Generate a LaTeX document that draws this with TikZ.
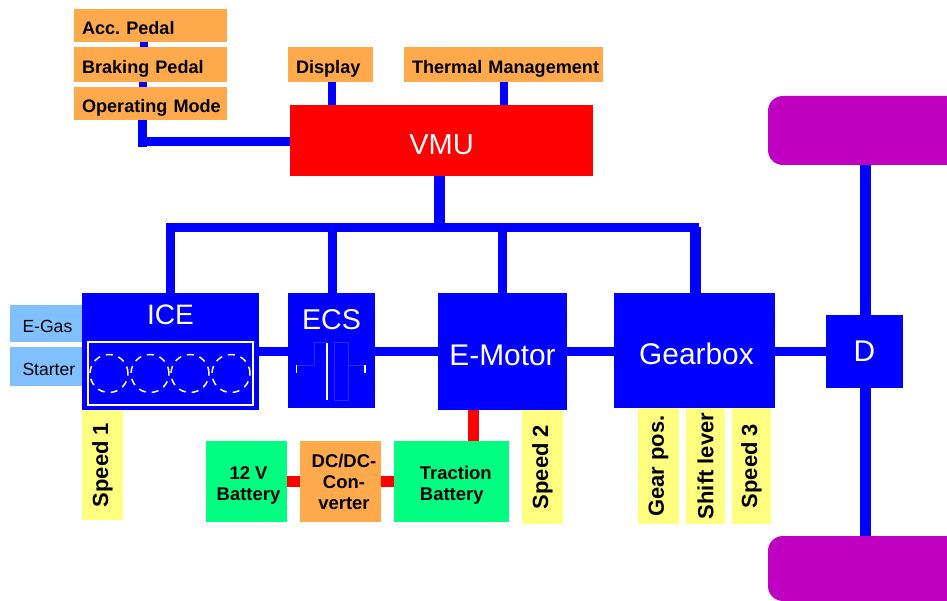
\documentclass[tikz,border=0pt]{standalone}
\usepackage{fontspec}
\setmainfont{Liberation Sans}
\usepackage{xcolor}
\usetikzlibrary{positioning, calc}

\definecolor{unitorange}{HTML}{FFA94D}
\definecolor{unitgreen}{HTML}{00FF80}
\definecolor{unityellow}{HTML}{FFFF80}
\definecolor{unitblue}{HTML}{80C0FF}
\definecolor{wheelpurple}{HTML}{C000C0}
\definecolor{clutchblue}{HTML}{2C2CFF}

\begin{document}
\begin{tikzpicture}[
    x=0.02cm, y=-0.02cm,
    box/.style={rectangle, inner sep=0pt, outer sep=0pt},
    peripheral/.style={box, fill=unitorange, minimum height=0.66cm, inner xsep=0.16cm, align=left, text height=0.45cm, text depth=0.1cm, font=\fontsize{10.3}{12}\selectfont\bfseries},
    sidebox/.style={peripheral, text width=2.74cm, minimum width=3.06cm},
    mainbox/.style={box, fill=blue, text=white, font=\fontsize{17}{20}\selectfont},
    sensor/.style={box, fill=unityellow, rotate=90, minimum height=0.82cm, font=\fontsize{12.5}{14}\selectfont\bfseries},
    battery/.style={box, fill=unitgreen, minimum height=1.62cm, align=center, font=\fontsize{10.5}{11.9}\selectfont\bfseries},
    actuator/.style={box, fill=unitblue, minimum width=1.44cm, inner xsep=0.25cm, text width=0.94cm, align=left, text height=0.48cm, text depth=0.1cm, font=\fontsize{10}{12}\selectfont},
    bus/.style={draw=blue, line width=0.18cm},
    wide/.style={bus, line width=0.22cm},
    power/.style={draw=red, line width=0.22cm},
    wheel/.style={fill=wheelpurple},
    cylinder/.style={circle, inner sep=0pt, minimum size=0.76cm, draw=white, line width=0.03cm, dash pattern=on 0.14cm off 0.12cm}
]
\useasboundingbox (0,0) rectangle (947,601);

\node[sidebox] at (150.5,25.5) (acc) {Acc.\ Pedal};
\node[sidebox, below=0.1cm of acc, minimum height=0.7cm] (brake) {Braking Pedal};
\node[sidebox, below=0.1cm of brake] (mode) {\mbox{Operating Mode}};

\node[box, fill=red, text=white, minimum width=6.06cm, minimum height=1.42cm, text height=0.58cm, font=\fontsize{16.5}{20}\selectfont] at (441.5,140.5) (vmu) {VMU};
\node[peripheral, minimum height=0.7cm, text width=1.38cm] at (330.5,64.5) (display) {Display};
\node[peripheral, minimum height=0.7cm, text width=3.66cm] at (503.5,64.5) (thermal) {\mbox{Thermal Management}};

\node[mainbox, minimum width=3.54cm, minimum height=2.34cm] at (170.5,351.5) (ice) {};
\node[mainbox, below=0.23cm of ice.north, font=\fontsize{16}{20}\selectfont] (icetext) {ICE};
\node[mainbox, minimum width=1.74cm, minimum height=2.3cm] at (331.5,350.5) (ecs) {};
\node[mainbox, below=0.33cm of ecs.north, font=\fontsize{16.3}{20}\selectfont] (ecstext) {ECS};
\node[mainbox, minimum width=2.58cm, minimum height=2.34cm, text height=0.56cm] at (502.5,351.5) (emotor) {E-Motor};
\node[mainbox, minimum width=3.22cm, minimum height=2.3cm, text height=0.56cm] at (694.5,350.5) (gearbox) {\hspace*{0.08cm}Gearbox};
\node[mainbox, minimum width=1.54cm, minimum height=1.46cm] at (864.5,351.5) (diff) {D};

\node[actuator, minimum height=0.74cm] at (46,323.5) (egas) {\mbox{E-Gas}};
\node[actuator, minimum height=0.78cm] at (46,366.5) (starter) {\mbox{Starter}};

\node[box, draw=white, line width=0.025cm, minimum width=3.3cm, minimum height=1.26cm] at (170.5,373.5) (engine) {};
\foreach \i/\cx in {1/109,2/150,3/190,4/231}
    \node[cylinder] at (\cx,373.5) (cyl\i) {};

\node[sensor, minimum width=2.2cm] at (102.5,465) (speedone) {Speed 1};
\node[sensor, minimum width=2.28cm] at (542.5,467) (speedtwo) {Speed 2};
\node[sensor, minimum width=2.32cm] at (658.5,466) (gearpos) {Gear pos.};
\node[sensor, minimum width=2.32cm, minimum height=0.78cm] at (705.5,466) (shift) {Shift lever};
\node[sensor, minimum width=2.32cm, minimum height=0.78cm] at (751.5,466) (speedthree) {Speed 3};

\node[battery, minimum width=1.62cm] at (246.5,481.5) (lowbatt) {\rule{0pt}{12pt}\hspace*{0.08cm}12 V\\\hspace*{0.08cm}Battery};
\node[battery, fill=unitorange, minimum width=1.62cm, right=0.26cm of lowbatt] (dcdc) {\hspace*{0.14cm}DC/DC-\\\hspace*{0.14cm}Con-\\\hspace*{0.14cm}verter};
\node[battery, minimum width=2.3cm, right=0.26cm of dcdc, inner xsep=0.52cm, text width=1.26cm, align=left] (tractbatt) {\rule{0pt}{12pt}Traction\\Battery};

\coordinate (modejoint) at (142.5,147);
\coordinate (vmujoint) at (439.5,227.5);
\coordinate (busend) at (699,227.5);
\coordinate (gearjoint) at (695.5,227);

\draw[bus, line width=0.16cm] ($(acc.south)+(-6.5,0)$) -- ($(brake.north)+(-6.5,0)$);
\draw[bus, line width=0.16cm] ($(brake.south)+(-7.5,0)$) -- ($(mode.north)+(-7.5,0)$);
\draw[bus] (mode.south -| modejoint) -- (modejoint);
\draw[bus] ($(vmu.west)+(0,1)$) -- ($(vmu.west -| modejoint)+(0,1)$);
\draw[bus, line width=0.16cm] ($(display.south)+(1.5,0)$) -- ($(vmu.north -| display.south)+(1.5,0)$);
\draw[bus, line width=0.16cm] (thermal.south) -- (vmu.north -| thermal.south);

\draw[wide] (vmu.south -| vmujoint) -- (vmujoint);
\draw[bus] (ice.north) |- (busend);
\draw[bus] ($(ecs.north)+(1,0)$) -- ($(ecs.north |- busend)+(1,0)$);
\draw[bus] (emotor.north) -- (emotor.north |- busend);
\draw[wide] (gearbox.north -| gearjoint) -- (gearjoint);

\foreach \from/\to in {ice/ecs,ecs/emotor,emotor/gearbox,gearbox/diff}
    \draw[bus] (\from.east |- diff.west) -- (\to.west |- diff.west);

\draw[power] ($(emotor.south)+(-29,0)$) -- ($(emotor.south |- tractbatt.north)+(-29,0)$);
\draw[power] (lowbatt) -- (dcdc);
\draw[power] (dcdc) -- (tractbatt);

\coordinate (wheeltop) at (865.5,165);
\coordinate (wheelbottom) at (865.5,536);
\fill[wheel] (947,96) [rounded corners=0.3cm] -- (768,96) -- (768,165) [sharp corners] -- (947,165) -- cycle;
\fill[wheel] (947,536) [rounded corners=0.3cm] -- (768,536) -- (768,601) [sharp corners] -- (947,601) -- cycle;
\draw[wide] (wheeltop) -- (wheeltop |- diff.north);
\draw[wide] (wheelbottom) -- (wheelbottom |- diff.south);

\draw[draw=clutchblue, line width=0.02cm] (297,365) -- (314,365) -- (314,343) -- (327,343);
\draw[draw=clutchblue, line width=0.02cm] (334,343) rectangle (348,400);
\draw[draw=clutchblue, line width=0.02cm] (348,365) -- (365,365);
\draw[draw=white, line width=0.04cm] (327,343) -- (327,400);
\draw[draw=white, line width=0.03cm] (296.5,365) -- (296.5,373);
\draw[draw=white, line width=0.03cm] (365,365) -- (365,373);

\end{tikzpicture}
\end{document}
